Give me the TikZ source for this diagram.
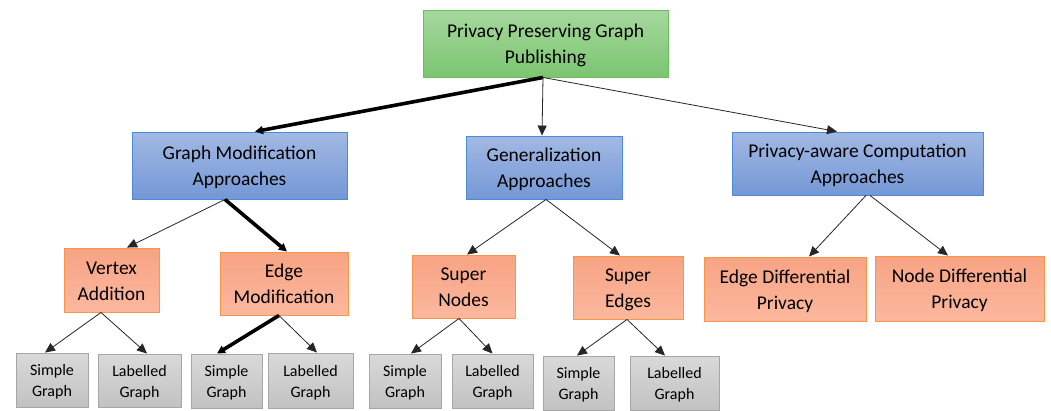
\documentclass[tikz,border=0pt]{standalone}
\usepackage{fontspec}
\setmainfont{Carlito}
\usetikzlibrary{arrows.meta}
\definecolor{grnT}{HTML}{A6D89E}
\definecolor{grnB}{HTML}{7CC570}
\definecolor{grnL}{HTML}{6DBD5E}
\definecolor{bluT}{HTML}{A2B9E3}
\definecolor{bluB}{HTML}{7498D6}
\definecolor{bluL}{HTML}{4A8AD8}
\definecolor{orgT}{HTML}{F8A384}
\definecolor{orgB}{HTML}{FBB89E}
\definecolor{orgL}{HTML}{F79646}
\definecolor{gryT}{HTML}{D9D9D9}
\definecolor{gryB}{HTML}{C2C2C2}
\definecolor{gryL}{HTML}{A6A6A6}
\definecolor{wire}{HTML}{262626}
% two centred lines, spaced by the current \baselineskip, drawn a little low
% while the box keeps its natural size (so the node stays centred on it)
\newcommand\stacked[1]{\raisebox{-2.2pt}[\height][\depth]{\begin{tabular}{@{}c@{}}#1\end{tabular}}}
\tikzset{
  x=1pt, y=-1pt,
  box/.style={inner sep=0pt, line width=0.9pt,
    font=\fontsize{19.5}{26}\selectfont},
  rootbox/.style={box, draw=grnL, top color=grnT, bottom color=grnB},
  catbox/.style={box, draw=bluL, top color=bluT, bottom color=bluB},
  subbox/.style={box, draw=orgL, top color=orgT, bottom color=orgB},
  leafbox/.style={box, draw=gryL, top color=gryT, bottom color=gryB,
    font=\fontsize{16}{21}\selectfont},
  thin/.style={draw=wire, line width=0.8pt, -{Triangle[length=10pt,width=9pt]}},
  heavy/.style={draw=black, line width=3.6pt, -{Triangle[length=8pt,width=8pt]}},
}
\begin{document}
\begin{tikzpicture}
\useasboundingbox (0,0) rectangle (1051,410);
\fill[white] (0,0) rectangle (1051,410);

% top level
\node[rootbox, minimum width=245pt, minimum height=67pt] (root) at (545.5,43.5) {\stacked{Privacy Preserving Graph\\Publishing}};

% approaches
\node[catbox, minimum width=215pt, minimum height=67pt] (gm) at (239.5,165.5) {\stacked{Graph Modification\\Approaches}};
\node[catbox, minimum width=156pt, minimum height=63pt] (gen) at (544,167.5) {\stacked{Generalization\\Approaches}};
\node[catbox, minimum width=251pt, minimum height=63pt] (pa) at (857.5,163.5) {\stacked{Privacy-aware Computation\\Approaches}};

% techniques
\node[subbox, minimum width=95pt, minimum height=64pt] (va) at (111.5,280) {\stacked{Vertex\\Addition}};
\node[subbox, minimum width=128pt, minimum height=63pt] (em) at (284,283.5) {\stacked{Edge\\Modification}};
\node[subbox, minimum width=103pt, minimum height=63pt] (sn) at (463.5,286.5) {\stacked{Super\\Nodes}};
\node[subbox, minimum width=110pt, minimum height=63pt] (se) at (628,287.5) {\stacked{Super\\Edges}};
\node[subbox, minimum width=162pt, minimum height=64pt] (edp) at (785,289) {\stacked{Edge Differential\\Privacy}};
\node[subbox, minimum width=169pt, minimum height=65pt] (ndp) at (959.5,288.5) {\stacked{Node Differential\\Privacy}};

% graph types
\node[leafbox, minimum width=72pt, minimum height=54pt] (sg1) at (52,380) {\stacked{Simple\\Graph}};
\node[leafbox, minimum width=83pt, minimum height=53pt] (lg1) at (139.5,380.5) {\stacked{Labelled\\Graph}};
\node[leafbox, minimum width=71pt, minimum height=54pt] (sg2) at (226.5,381) {\stacked{Simple\\Graph}};
\node[leafbox, minimum width=85pt, minimum height=55pt] (lg2) at (310.5,380.5) {\stacked{Labelled\\Graph}};
\node[leafbox, minimum width=72pt, minimum height=54pt] (sg3) at (405,381) {\stacked{Simple\\Graph}};
\node[leafbox, minimum width=81pt, minimum height=54pt] (lg3) at (492.5,381) {\stacked{Labelled\\Graph}};
\node[leafbox, minimum width=71pt, minimum height=54pt] (sg4) at (578.5,383) {\stacked{Simple\\Graph}};
\node[leafbox, minimum width=89pt, minimum height=54pt] (lg4) at (674.5,383) {\stacked{Labelled\\Graph}};

% connectors
\draw[heavy] ([xshift=-2.5pt]root.south) -- ([xshift=15.5pt]gm.north);
\draw[thin]  ([xshift=-2.5pt]root.south) -- ([xshift=-2pt]gen.north);
\draw[thin]  ([xshift=-2.5pt]root.south) -- ([xshift=-20.5pt]pa.north);

\draw[thin]  ([xshift=-14.5pt]gm.south) -- ([xshift=15.5pt]va.north);
\draw[heavy] ([xshift=-14.5pt]gm.south) -- ([xshift=3pt]em.north);
\draw[thin]  ([xshift=2pt]gen.south) -- ([xshift=3.5pt]sn.north);
\draw[thin]  ([xshift=2pt]gen.south) -- ([xshift=-8pt]se.north);
\draw[thin]  ([xshift=8.5pt]pa.south) -- ([xshift=24pt]edp.north);
\draw[thin]  ([xshift=12.5pt]pa.south) -- ([xshift=-11.5pt]ndp.north);

\draw[thin]  ([xshift=-10.5pt]va.south) -- ([xshift=-7pt]sg1.north);
\draw[thin]  ([xshift=-10.5pt]va.south) -- ([xshift=7.5pt]lg1.north);
\draw[heavy] ([xshift=-5pt]em.south) -- ([xshift=-9.5pt]sg2.north);
\draw[thin]  ([xshift=-5pt]em.south) -- ([xshift=6.5pt]lg2.north);
\draw[thin]  ([xshift=-4.5pt]sn.south) -- ([xshift=6pt]sg3.north);
\draw[thin]  ([xshift=-4.5pt]sn.south) -- (lg3.north);
\draw[thin]  ([xshift=-1pt]se.south) -- ([xshift=-1.5pt]sg4.north);
\draw[thin]  ([xshift=-1pt]se.south) -- ([xshift=-9.5pt]lg4.north);
\end{tikzpicture}
\end{document}
